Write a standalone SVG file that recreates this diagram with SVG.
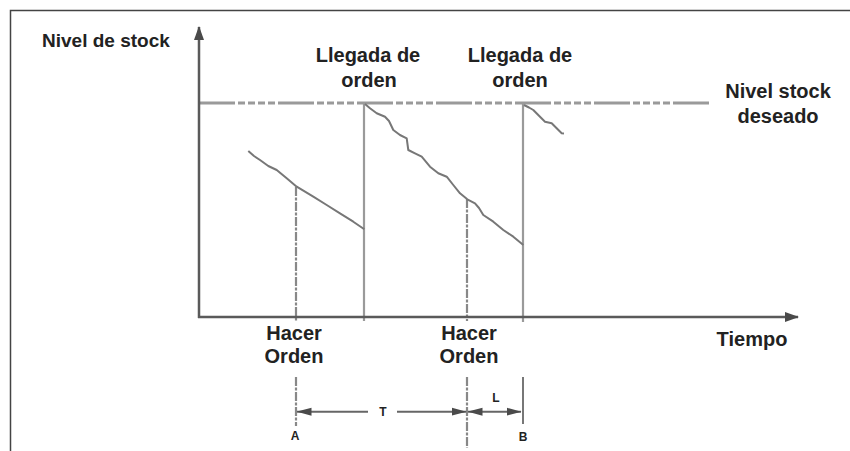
<svg xmlns="http://www.w3.org/2000/svg" width="850" height="451" viewBox="0 0 850 451">
<style>
  text { font-family: "Liberation Sans", Arial, sans-serif; fill: #222; font-weight: bold; }
  .lbl { font-size: 20px; text-anchor: middle; }
  .sm { font-size: 12px; text-anchor: middle; }
  .axis { stroke: #5a5a5a; stroke-width: 2.5; fill: none; }
  .curve { stroke: #777; stroke-width: 2; fill: none; stroke-linejoin: round; }
  .vline { stroke: #9a9a9a; stroke-width: 2.2; fill: none; }
  .dvline { stroke: #888; stroke-width: 2.2; fill: none; stroke-dasharray: 9 1.5 3 1.5; }
  .level { stroke: #9a9a9a; stroke-width: 3; fill: none; stroke-dasharray: 36 3 7 3 7 3 7 3 7 3; }
  .dim { stroke: #666; stroke-width: 2; fill: none; }
</style>
<defs>
  <marker id="axisArrow" viewBox="0 0 14 10" refX="13" refY="5" markerWidth="14" markerHeight="10" markerUnits="userSpaceOnUse" orient="auto">
    <path d="M0,0 L14,5 L0,10 Z" fill="#4a4a4a"/>
  </marker>
  <marker id="dimArrow" viewBox="0 0 15 9" refX="14.5" refY="4.5" markerWidth="15" markerHeight="9" markerUnits="userSpaceOnUse" orient="auto-start-reverse">
    <path d="M0,0.5 L15,4.5 L0,8.5 Z" fill="#4a4a4a"/>
  </marker>
</defs>
<rect x="0" y="0" width="850" height="451" fill="#fff"/>
<g id="frame">
  <path d="M10.5,451 L10.5,10.5 L850,10.5" stroke="#444" stroke-width="1.5" fill="none"/>
</g>
<g id="desired-level">
  <line class="level" x1="199" y1="103" x2="712" y2="103"/>
</g>
<g id="connectors">
  <line class="vline" x1="364" y1="103" x2="364" y2="321"/>
  <line class="vline" x1="523" y1="103" x2="523" y2="322"/>
  <line class="dvline" x1="296" y1="187" x2="296" y2="321"/>
  <line class="dvline" x1="467" y1="199" x2="467" y2="321"/>
  <line class="dvline" x1="296" y1="377" x2="296" y2="426"/>
  <line class="dvline" x1="467" y1="377" x2="467" y2="448"/>
  <line x1="523" y1="377" x2="523" y2="424" stroke="#777" stroke-width="2"/>
  <line class="dim" x1="297" y1="411.7" x2="368" y2="411.7" marker-start="url(#dimArrow)"/>
  <line class="dim" x1="397" y1="411.7" x2="466" y2="411.7" marker-end="url(#dimArrow)"/>
  <line class="dim" x1="468" y1="411.7" x2="521" y2="411.7" marker-start="url(#dimArrow)" marker-end="url(#dimArrow)"/>
</g>
<g id="stock-curves">
  <polyline class="curve" points="248.3,151 254,156 260,160 268.3,166 276.7,170 286.7,178.3 296.7,186.7 313.3,196.7 326.7,205 340,213.3 353.3,221.7 364.3,229.3"/>
  <polyline class="curve" points="365,104 370,108.3 376.7,113.3 385,116.7 389,121 393.3,130 400,135 406.7,138.3 408.3,150 415,153.3 421.7,156.7 430,166.7 438.3,173.3 446.7,176.7 453.3,185 460,193.3 467.3,199.3 475,203.3 479,208 483.3,215 493.3,221.7 503.3,230 513.3,236.7 523.3,245"/>
  <polyline class="curve" points="524,105 529,107.5 533.3,110 540,116.7 545,121.7 551.7,123.3 556.7,128.3 561.7,133.3 564,133.5"/>
</g>
<g id="axes">
  <line class="axis" x1="199" y1="318" x2="199" y2="27" marker-end="url(#axisArrow)"/>
  <line class="axis" x1="198" y1="317" x2="798" y2="317" marker-end="url(#axisArrow)"/>
</g>
<g id="label-nivel-stock">
  <text x="42" y="47" font-size="19">Nivel de stock</text>
</g>
<g id="label-llegada-1">
  <text class="lbl" x="368" y="62">Llegada de</text>
  <text class="lbl" x="369" y="87">orden</text>
</g>
<g id="label-llegada-2">
  <text class="lbl" x="520" y="62">Llegada de</text>
  <text class="lbl" x="520" y="87">orden</text>
</g>
<g id="label-nivel-deseado">
  <text class="lbl" x="778" y="98">Nivel stock</text>
  <text class="lbl" x="778" y="123">deseado</text>
</g>
<g id="label-hacer-1">
  <text class="lbl" x="294" y="340">Hacer</text>
  <text class="lbl" x="294" y="363">Orden</text>
</g>
<g id="label-hacer-2">
  <text class="lbl" x="469" y="340">Hacer</text>
  <text class="lbl" x="469" y="363">Orden</text>
</g>
<g id="label-tiempo">
  <text class="lbl" x="752" y="346">Tiempo</text>
</g>
<g id="dim-labels">
  <text class="sm" x="383" y="416">T</text>
  <text class="sm" x="496" y="402">L</text>
  <text class="sm" x="295" y="440">A</text>
  <text class="sm" x="523" y="441">B</text>
</g>
</svg>
